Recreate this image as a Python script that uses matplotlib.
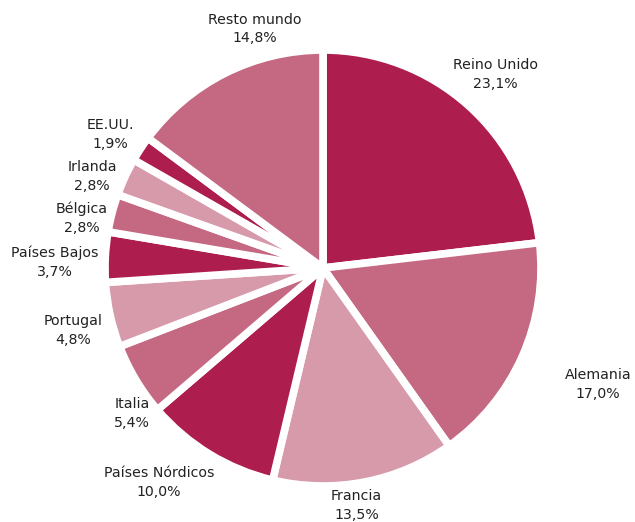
import numpy as np
import matplotlib
matplotlib.use("Agg")
import matplotlib.pyplot as plt

paises = ["Reino Unido", "Alemania", "Francia", "Países Nórdicos", "Italia",
          "Portugal", "Países Bajos", "Bélgica", "Irlanda", "EE.UU.", "Resto mundo"]
cuotas = [23.1, 17.0, 13.5, 10.0, 5.4, 4.8, 3.7, 2.8, 2.8, 1.9, 14.8]

oscuro, medio, claro = "#AD1E4E", "#C56882", "#D79AAB"
colores = [oscuro, medio, claro, oscuro, medio, claro, oscuro, medio, claro, oscuro, medio]

# label placement: distance from centre (in radii) and angular tweak (degrees)
dist_etiqueta = [1.19, 1.37, 1.10, 1.24, 1.10, 1.18, 1.23, 1.13, 1.14, 1.15, 1.14]
giro_etiqueta = [0, 1, -3, -6, 6.5, 1.7, 1.7, 3, 3, 1.1, -10.8]

fig = plt.figure(figsize=(6.35, 5.22), dpi=100)
ax = fig.add_axes([105 / 635, 36 / 522, 436 / 635, 436 / 522])

wedges, _ = ax.pie(cuotas, colors=colores, startangle=90, counterclock=False,
                   wedgeprops=dict(edgecolor="white", linewidth=5.5, joinstyle="round"))
ax.set_xlim(-1, 1)
ax.set_ylim(-1, 1)
ax.set_aspect("equal")
ax.axis("off")

for w, nombre, valor, d, g in zip(wedges, paises, cuotas, dist_etiqueta, giro_etiqueta):
    ang = np.deg2rad((w.theta1 + w.theta2) / 2 + g)
    texto = nombre + "\n" + f"{valor:.1f}".replace(".", ",") + "%"
    ax.text(d * np.cos(ang), d * np.sin(ang), texto, ha="center", va="center",
            fontsize=10.2, color="#222222", linespacing=1.45, clip_on=False)

fig.savefig("out.png", dpi=100)
